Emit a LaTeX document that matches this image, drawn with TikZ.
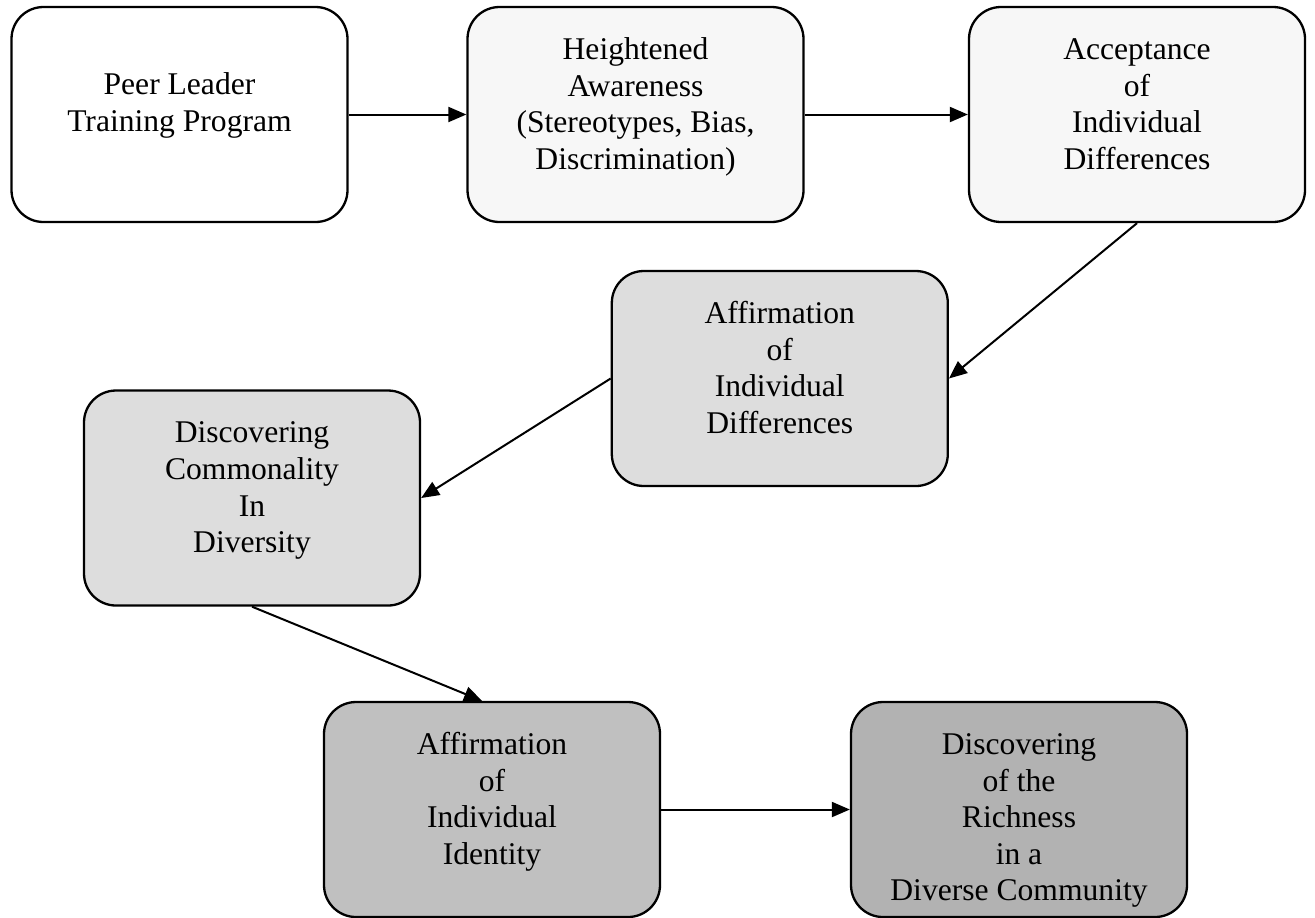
\documentclass[tikz,border=0pt]{standalone}
\usepackage{fontspec}
\setmainfont{Liberation Serif}
\usetikzlibrary{arrows.meta,calc}

\definecolor{paleGray}{HTML}{F7F7F7}
\definecolor{lightGray}{HTML}{DDDDDD}
\definecolor{midGray}{HTML}{C0C0C0}
\definecolor{darkGray}{HTML}{B2B2B2}

% text of a box, set from the top
\newcommand{\stagetext}[2][13.4pt]{\parbox[c][107.5pt][t]{164pt}{\centering\vspace*{#1}\strut #2}}

\tikzset{
	stage/.style={draw,line width=1.15pt,rounded corners=16pt,
		minimum width=168pt,minimum height=107.5pt,inner sep=0pt,
		font=\fontsize{15.8}{18.3}\selectfont},
	flow/.style={line width=1pt,-{Triangle[length=9pt,width=7.5pt]}}
}

\begin{document}
\begin{tikzpicture}[x=1pt,y=1pt]
	\useasboundingbox (0,0) rectangle (657.5,-458.5);

	% first row
	\node[stage,fill=white] (peer) at (89.75,-57.25)
		{\stagetext[31pt]{Peer Leader\\Training Program}};
	\node[stage,fill=paleGray] (aware) at (317.75,-57.25)
		{\stagetext{Heightened\\Awareness\\(Stereotypes, Bias,\\Discrimination)}};
	\node[stage,fill=paleGray] (accept) at (568.5,-57.25)
		{\stagetext{Acceptance\\of\\Individual\\Differences}};

	% middle
	\node[stage,fill=lightGray] (affdiff) at (389.9,-189.25)
		{\stagetext{Affirmation\\of\\Individual\\Differences}};
	\node[stage,fill=lightGray] (common) at (126,-249)
		{\stagetext{Discovering\\Commonality\\In\\Diversity}};

	% last row
	\node[stage,fill=midGray] (ident) at (246,-404.75)
		{\stagetext{Affirmation\\of\\Individual\\Identity}};
	\node[stage,fill=darkGray] (rich) at (509.5,-404.75)
		{\stagetext{Discovering\\of the\\Richness\\in a\\Diverse Community}};

	\draw[flow] (peer.east) -- (aware.west);
	\draw[flow] (aware.east) -- (accept.west);
	\draw[flow] (accept.south) -- (affdiff.east);
	\draw[flow] (affdiff.west) -- (common.east);
	\draw[flow] (common.south) -- ($(ident.north)+(-5,0)$);
	\draw[flow] (ident.east) -- (rich.west);
\end{tikzpicture}
\end{document}
